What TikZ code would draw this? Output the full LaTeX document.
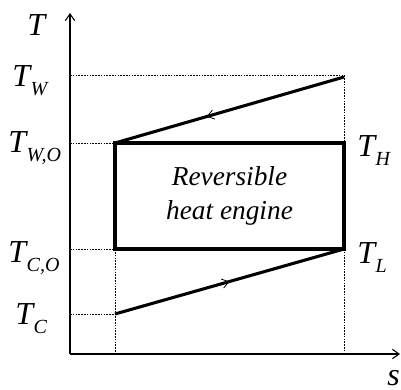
\documentclass[tikz,border=0pt]{standalone}
\usepackage{fontspec}
\setmainfont{Liberation Serif}
\usetikzlibrary{arrows.meta,decorations.markings}

\tikzset{
  axis/.style={line width=0.8pt, -{Straight Barb[length=5pt,width=7pt]}},
  guide/.style={line width=0.45pt, dash pattern=on 1.2pt off 0.9pt},
  process/.style={line width=2.3pt},
  engine/.style={line width=2.9pt},
  midarrow/.style={postaction={decorate}, decoration={markings,
      mark=at position #1 with {\arrow{Straight Barb[length=5pt,width=7pt,line width=0.6pt]}}}},
  lbl/.style={font=\fontsize{24}{24}\selectfont\itshape, inner sep=0pt, anchor=base west}
}
\newcommand{\tsym}[1]{T\kern0.5pt\raisebox{-7pt}{\fontsize{15}{15}\selectfont #1}}

\begin{document}
\begin{tikzpicture}[x=0.75pt,y=-0.75pt]
\useasboundingbox (0,0) rectangle (401,390);
% axes
\coordinate (o) at (70,354);
\coordinate (ytop) at (70,13);
\coordinate (xend) at (400,354);
\draw[axis] (o) -- (ytop);
\draw[axis] (o) -- (xend);
\node[lbl] (tlab) at (27,35) {T};
\node[lbl] (slab) at (387,385) {s};

% cycle corners
\coordinate (wo) at (115,143);
\coordinate (h) at (344,143);
\coordinate (l) at (344,249);
\coordinate (co) at (115,249);
\coordinate (w) at (344,77);
\coordinate (c) at (115,314);

% guide lines
\draw[guide] (70,75) -- (344,75) -- (344,354);
\draw[guide] (70,143) -- (wo) -- (115,354);
\draw[guide] (70,249) -- (co);
\draw[guide] (70,314) -- (c);

% temperature labels
\node[lbl] (tw) at (12,86) {\tsym{W}};
\node[lbl] (two) at (8,152) {\tsym{W,O}};
\node[lbl] (tco) at (8,262) {\tsym{C,O}};
\node[lbl] (tc) at (15,324) {\tsym{C}};
\node[lbl] (th) at (357,156) {\tsym{H}};
\node[lbl] (tl) at (357,263) {\tsym{L}};

% hot and cold streams
\draw[process, midarrow=0.6] (w) -- (wo);
\draw[process, midarrow=0.5] (c) -- (l);

% engine
\draw[engine] (wo) -- (h) -- (l) -- (co) -- cycle;
\node[font=\fontsize{20.5}{25}\selectfont\itshape, align=center] (eng) at (229.5,196) {Reversible\\heat engine};
\end{tikzpicture}
\end{document}
